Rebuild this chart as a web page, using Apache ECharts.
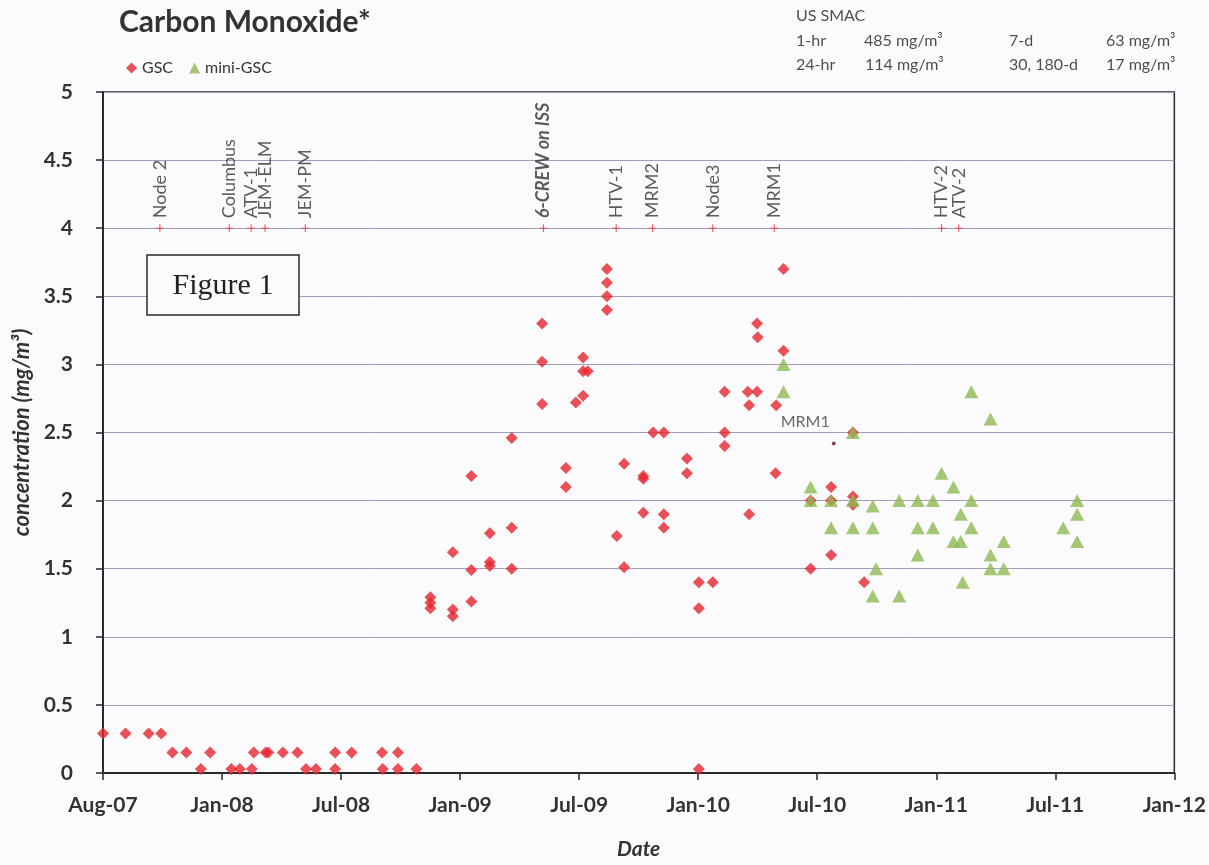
<!DOCTYPE html>
<html>
<head>
<meta charset="utf-8">
<title>Carbon Monoxide</title>
<script src="https://cdn.jsdelivr.net/npm/echarts@6/dist/echarts.min.js"></script>
<style>
  html, body { margin: 0; padding: 0; background: #fbfbfd; }
  #main { width: 1209px; height: 865px; }
</style>
</head>
<body>
<div id="main"></div>
<script>
// GSC samples [date, mg/m3]
var gscData = [
  ['2007-08-01', 0.29], ['2007-09-04', 0.29], ['2007-10-09', 0.29], ['2007-10-28', 0.29],
  ['2007-11-14', 0.15], ['2007-12-05', 0.15], ['2007-12-27', 0.03], ['2008-01-10', 0.15],
  ['2008-02-11', 0.03], ['2008-02-24', 0.03], ['2008-03-13', 0.03], ['2008-03-16', 0.15],
  ['2008-04-03', 0.15], ['2008-04-07', 0.15], ['2008-04-29', 0.15], ['2008-05-21', 0.15],
  ['2008-06-03', 0.03], ['2008-06-18', 0.03], ['2008-07-17', 0.15], ['2008-07-17', 0.03],
  ['2008-08-11', 0.15], ['2008-09-26', 0.15], ['2008-09-27', 0.03], ['2008-10-20', 0.15],
  ['2008-10-20', 0.03], ['2008-11-17', 0.03],
  ['2008-12-08', 1.29], ['2008-12-08', 1.25], ['2008-12-08', 1.21],
  ['2009-01-11', 1.62], ['2009-01-11', 1.20], ['2009-01-11', 1.15],
  ['2009-02-08', 2.18], ['2009-02-08', 1.49], ['2009-02-08', 1.26],
  ['2009-03-08', 1.76], ['2009-03-08', 1.55], ['2009-03-08', 1.52],
  ['2009-04-10', 2.46], ['2009-04-10', 1.80], ['2009-04-10', 1.50],
  ['2009-05-26', 3.30], ['2009-05-26', 3.02], ['2009-05-26', 2.71],
  ['2009-07-01', 2.24], ['2009-07-01', 2.10], ['2009-07-16', 2.72],
  ['2009-07-27', 3.05], ['2009-07-27', 2.95], ['2009-07-27', 2.77], ['2009-08-03', 2.95],
  ['2009-09-01', 3.70], ['2009-09-01', 3.60], ['2009-09-01', 3.50], ['2009-09-01', 3.40],
  ['2009-09-16', 1.74], ['2009-09-27', 2.27], ['2009-09-27', 1.51],
  ['2009-10-26', 2.18], ['2009-10-26', 2.16], ['2009-10-26', 1.91],
  ['2009-11-10', 2.50], ['2009-11-26', 2.50], ['2009-11-26', 1.90], ['2009-11-26', 1.80],
  ['2009-12-31', 2.31], ['2009-12-31', 2.20],
  ['2010-01-18', 1.40], ['2010-01-18', 1.21], ['2010-01-18', 0.03], ['2010-02-08', 1.40],
  ['2010-02-26', 2.80], ['2010-02-26', 2.50], ['2010-02-26', 2.40],
  ['2010-04-02', 2.80], ['2010-04-04', 2.70], ['2010-04-04', 1.90],
  ['2010-04-16', 3.30], ['2010-04-16', 2.80], ['2010-04-17', 3.20],
  ['2010-05-14', 2.20], ['2010-05-15', 2.70], ['2010-05-26', 3.70], ['2010-05-26', 3.10],
  ['2010-07-06', 2.00], ['2010-07-06', 1.50],
  ['2010-08-06', 2.10], ['2010-08-06', 2.00], ['2010-08-06', 1.60],
  ['2010-09-08', 2.50], ['2010-09-08', 2.03], ['2010-09-08', 1.97], ['2010-09-25', 1.40]
];

// mini-GSC samples [date, mg/m3]
var miniData = [
  ['2010-05-26', 3.00], ['2010-05-26', 2.80],
  ['2010-07-06', 2.10], ['2010-07-06', 2.00],
  ['2010-08-06', 2.00], ['2010-08-06', 1.80],
  ['2010-09-08', 2.50], ['2010-09-08', 2.00], ['2010-09-08', 1.80],
  ['2010-10-08', 1.96], ['2010-10-08', 1.80], ['2010-10-08', 1.30], ['2010-10-13', 1.50],
  ['2010-11-17', 2.00], ['2010-11-17', 1.30],
  ['2010-12-15', 2.00], ['2010-12-15', 1.80], ['2010-12-15', 1.60],
  ['2011-01-07', 2.00], ['2011-01-07', 1.80], ['2011-01-20', 2.20],
  ['2011-02-07', 2.10], ['2011-02-07', 1.70], ['2011-02-18', 1.90], ['2011-02-18', 1.70],
  ['2011-02-21', 1.40],
  ['2011-03-06', 2.80], ['2011-03-06', 2.00], ['2011-03-06', 1.80],
  ['2011-04-04', 2.60], ['2011-04-04', 1.60], ['2011-04-04', 1.50],
  ['2011-04-24', 1.70], ['2011-04-24', 1.50],
  ['2011-07-23', 1.80],
  ['2011-08-13', 2.00], ['2011-08-13', 1.90], ['2011-08-13', 1.70]
];

// ISS events, drawn on the 4 mg/m3 line
var eventNames = ['Node 2', 'Columbus', 'ATV-1', 'JEM-ELM', 'JEM-PM', '6-CREW on ISS',
  'HTV-1', 'MRM2', 'Node3', 'MRM1', 'HTV-2', 'ATV-2'];
var eventDates = ['2007-10-26', '2008-02-08', '2008-03-12', '2008-04-02', '2008-06-02', '2009-05-28',
  '2009-09-15', '2009-11-09', '2010-02-08', '2010-05-12', '2011-01-20', '2011-02-15'];
var eventLevel = 4;

// single labelled point
var mrmPoint = ['2010-08-10', 2.42];
var mrmLabel = 'MRM1';

var smacText = [
  ['US SMAC', 796, 18],
  ['1-hr', 796, 43], ['485 mg/m\u00b3', 864, 43], ['7-d', 1009, 43], ['63 mg/m\u00b3', 1106, 43],
  ['24-hr', 796, 67], ['114 mg/m\u00b3', 865, 67], ['30, 180-d', 1009, 67], ['17 mg/m\u00b3', 1106, 67]
];

var months = ['Jan', 'Feb', 'Mar', 'Apr', 'May', 'Jun', 'Jul', 'Aug', 'Sep', 'Oct', 'Nov', 'Dec'];
var DAY = 86400000;
var start = Date.UTC(2007, 7, 1);

function dayOf(s) {
  return Math.round((Date.parse(s) - start) / DAY);
}
function toXY(p) {
  return [dayOf(p[0]), p[1]];
}
function dayLabel(v) {
  var d = new Date(start + v * DAY);
  return months[d.getUTCMonth()] + '-' + String(d.getUTCFullYear()).slice(2);
}

var FONT = 'Lato';
var chart = echarts.init(document.getElementById('main'));

var eventData = eventDates.map(function (s, i) {
  var item = { value: [dayOf(s), eventLevel] };
  if (eventNames[i] === '6-CREW on ISS') {
    item.label = { fontWeight: 'bold', fontStyle: 'italic' };
  }
  return item;
});

var graphics = smacText.map(function (t) {
  return {
    type: 'text', left: t[1], top: t[2] - 10,
    style: { text: t[0], font: '16px ' + FONT, fill: '#4f4f4f' }
  };
});
graphics.push({
  type: 'rect', shape: { x: 147, y: 255, width: 152, height: 60 },
  style: { fill: '#fbfbfd', stroke: '#2a2a2a', lineWidth: 1.5 }, z: 10
});
graphics.push({
  type: 'text', x: 223, y: 286, z: 11,
  style: { text: 'Figure 1', font: '30px "Liberation Serif"', fill: '#222', align: 'center', verticalAlign: 'middle' }
});

chart.setOption({
  backgroundColor: '#fbfbfd',
  animation: false,
  textStyle: { fontFamily: FONT },
  title: {
    text: 'Carbon Monoxide*', left: 114, top: 2,
    textStyle: { fontFamily: FONT, fontSize: 30, fontWeight: 'bold', color: '#333' }
  },
  legend: {
    left: 121, top: 55, itemWidth: 11, itemHeight: 11, itemGap: 16,
    textStyle: { fontFamily: FONT, fontSize: 16, color: '#333' },
    data: [{ name: 'GSC', icon: 'diamond' }, { name: 'mini-GSC', icon: 'triangle' }]
  },
  grid: {
    left: 103, right: 30, top: 92, bottom: 89,
    show: true, borderColor: '#2a2a2a', borderWidth: 1.5
  },
  xAxis: {
    type: 'value', min: 0, max: 1620, interval: 180,
    name: 'Date', nameLocation: 'middle', nameGap: 66,
    nameTextStyle: { fontFamily: FONT, fontSize: 21, fontWeight: 'bold', fontStyle: 'italic', color: '#333' },
    axisLine: { show: true, lineStyle: { color: '#2a2a2a', width: 2 } },
    axisTick: { show: true, length: 7, lineStyle: { color: '#2a2a2a', width: 1.5 } },
    axisLabel: { fontFamily: FONT, fontSize: 21, fontWeight: 'bold', color: '#333', margin: 22, formatter: dayLabel },
    splitLine: { show: false }
  },
  yAxis: {
    type: 'value', min: 0, max: 5, interval: 0.5,
    name: 'concentration (mg/m\u00b3)', nameLocation: 'middle', nameGap: 68,
    nameTextStyle: { fontFamily: FONT, fontSize: 22, fontWeight: 'bold', fontStyle: 'italic', color: '#333' },
    axisLine: { show: true, lineStyle: { color: '#2a2a2a', width: 2 } },
    axisTick: { show: true, length: 7, lineStyle: { color: '#2a2a2a', width: 1.5 } },
    axisLabel: { fontFamily: FONT, fontSize: 21, fontWeight: 'bold', color: '#333', margin: 30 },
    splitLine: { show: true, lineStyle: { color: '#a29dbb', width: 1 } }
  },
  graphic: graphics,
  series: [
    {
      name: 'events', type: 'scatter', z: 3,
      symbol: 'path://M4.3,0h1.4v4.3h4.3v1.4h-4.3v4.3h-1.4v-4.3h-4.3v-1.4h4.3z',
      symbolSize: 8,
      itemStyle: { color: '#e8343a' },
      label: {
        show: true, position: 'top', distance: 6, rotate: 90,
        align: 'left', verticalAlign: 'middle',
        fontFamily: FONT, fontSize: 18, color: '#333',
        formatter: function (p) { return eventNames[p.dataIndex]; }
      },
      data: eventData
    },
    {
      name: 'GSC', type: 'scatter', symbol: 'diamond', symbolSize: 12, z: 4,
      itemStyle: { color: '#e6262d' },
      data: gscData.map(toXY)
    },
    {
      name: 'mini-GSC', type: 'scatter', symbol: 'triangle', symbolSize: [14, 13], z: 5,
      itemStyle: { color: '#8fba52' },
      data: miniData.map(toXY)
    },
    {
      name: 'mrm', type: 'scatter', symbol: 'circle', symbolSize: 4, z: 6,
      itemStyle: { color: '#6b1a1a' },
      label: {
        show: true, position: 'left', offset: [0, -22], distance: 2,
        fontFamily: FONT, fontSize: 16, color: '#444',
        formatter: mrmLabel
      },
      data: [toXY(mrmPoint)]
    }
  ]
});
</script>
</body>
</html>
